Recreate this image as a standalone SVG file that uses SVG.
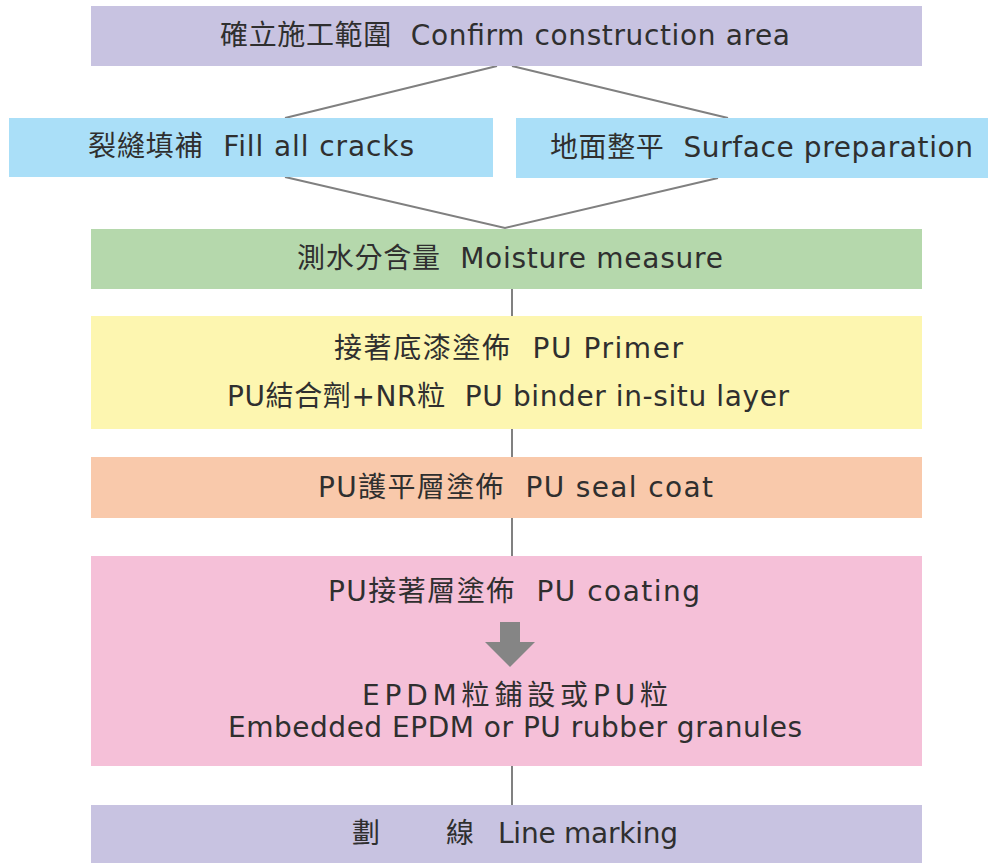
<svg xmlns="http://www.w3.org/2000/svg" width="988" height="863" viewBox="0 0 988 863">
<style>
text{font-family:"DejaVu Sans","Noto Sans CJK TC",sans-serif;font-size:28px;fill:#2f2f2f;text-anchor:middle}
.c{stroke:#808080;stroke-width:2;fill:none}
</style>
<rect width="988" height="863" fill="#ffffff"/>
<g id="connectors">
<path class="c" d="M497,66 L285,118 M512,66 L728,118 M285,177 L505,228 L718,178"/>
<path class="c" d="M512,289 V316 M512,429 V457 M512,518 V556 M512,766 V805"/>
</g>
<g id="n1"><rect x="91" y="6" width="831" height="60" fill="#c8c3e1"/><text x="505" y="45" xml:space="preserve" textLength="570" lengthAdjust="spacing">確立施工範圍  Confirm construction area</text></g>
<g id="n2"><rect x="9" y="118" width="484" height="59" fill="#aadff8"/><text x="251" y="156" xml:space="preserve" textLength="326" lengthAdjust="spacing">裂縫填補  Fill all cracks</text></g>
<g id="n3"><rect x="516" y="118" width="472" height="60" fill="#aadff8"/><text x="761.5" y="157" xml:space="preserve" textLength="423" lengthAdjust="spacing">地面整平  Surface preparation</text></g>
<g id="n4"><rect x="91" y="229" width="831" height="60" fill="#b5d8ac"/><text x="510" y="268" xml:space="preserve" textLength="426" lengthAdjust="spacing">測水分含量  Moisture measure</text></g>
<g id="n5"><rect x="91" y="316" width="831" height="113" fill="#fdf6b0"/><text x="508.5" y="358" xml:space="preserve" textLength="349" lengthAdjust="spacing">接著底漆塗佈  PU Primer</text><text x="508" y="406" xml:space="preserve" textLength="562" lengthAdjust="spacing">PU結合劑+NR粒  PU binder in-situ layer</text></g>
<g id="n6"><rect x="91" y="457" width="831" height="61" fill="#f9c9ab"/><text x="515.5" y="497" xml:space="preserve" textLength="395" lengthAdjust="spacing">PU護平層塗佈  PU seal coat</text></g>
<g id="n7"><rect x="91" y="556" width="831" height="210" fill="#f5c0d8"/><text x="514" y="601" xml:space="preserve" textLength="372" lengthAdjust="spacing">PU接著層塗佈  PU coating</text>
<path d="M500,622 H520 V642 H535 L510,667 L485,642 H500 Z" fill="#858585"/>
<text x="515" y="705" textLength="306" lengthAdjust="spacing">EPDM粒鋪設或PU粒</text><text x="515" y="737" textLength="574" lengthAdjust="spacing">Embedded EPDM or PU rubber granules</text></g>
<g id="n8"><rect x="91" y="805" width="831" height="58" fill="#c8c3e1"/><text x="515" y="843" xml:space="preserve" style="text-anchor:start"><tspan x="352">劃</tspan><tspan x="446">線</tspan><tspan x="498" textLength="180" lengthAdjust="spacing">Line marking</tspan></text></g>
</svg>
